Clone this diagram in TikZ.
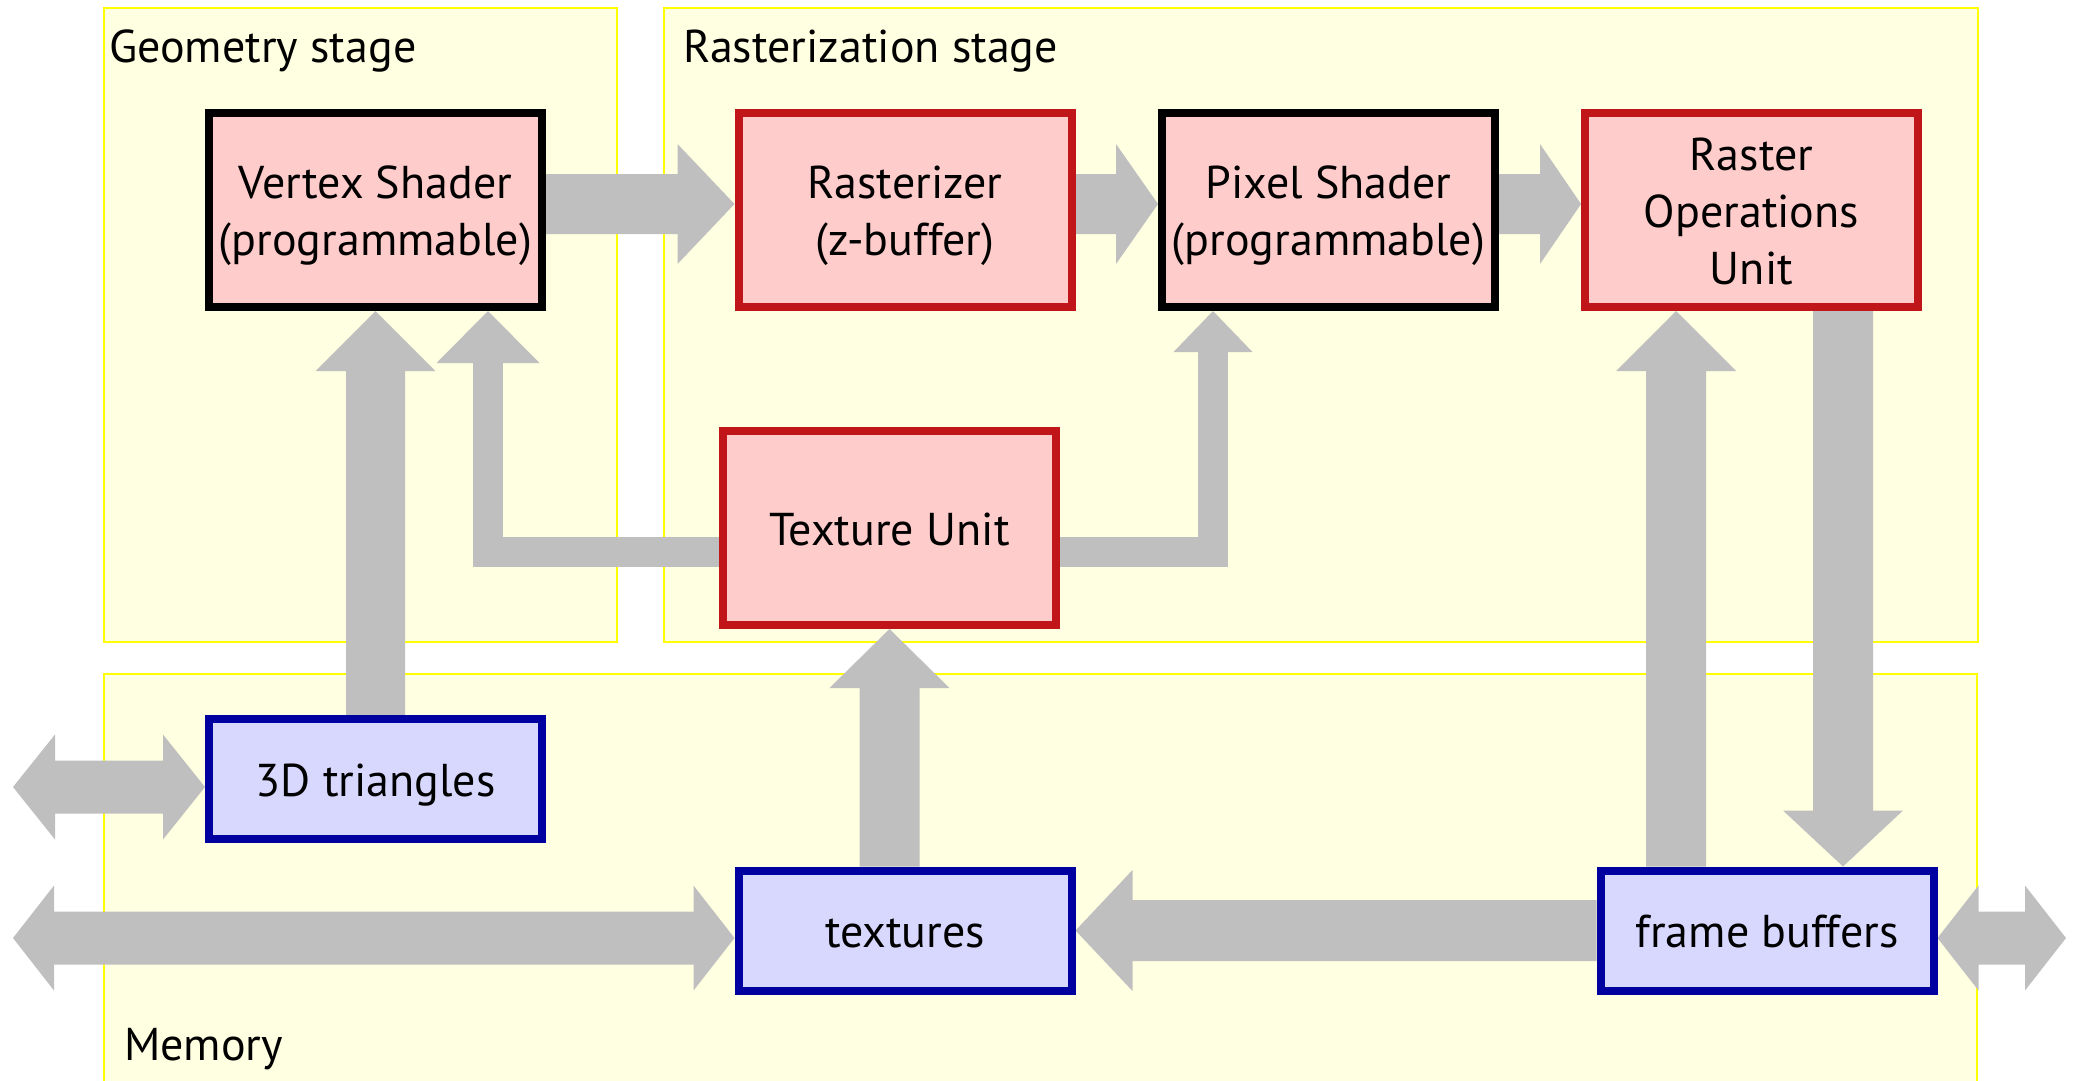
\documentclass[tikz,border=0pt]{standalone}
\usepackage{fontspec}
\setmainfont{PT Sans}
\usetikzlibrary{calc}
\pgfdeclarelayer{bgA}
\pgfdeclarelayer{bgB}
\pgfsetlayers{bgA,bgB,main}
\definecolor{regfill}{RGB}{255,255,226}
\definecolor{regline}{RGB}{255,255,0}
\definecolor{pinkfill}{RGB}{255,204,204}
\definecolor{redline}{RGB}{192,22,26}
\definecolor{bluefill}{RGB}{216,216,255}
\definecolor{blueline}{RGB}{0,0,160}
\definecolor{arrgray}{RGB}{191,191,191}
% one text line with fixed height 34pt and no depth
\newcommand\txtline[1]{\smash{#1}\rule{0pt}{34pt}}
% block arrow: from, tip, shaft half width, head half width, head length
\newcommand\blockarrow[5]{%
  \path ($(#2)!#5!(#1)$) coordinate (bahead);
  \fill[arrgray] ($(#1)!#3!90:(#2)$) -- ($(bahead)!#3!90:(#2)$) -- ($(bahead)!#4!90:(#2)$) -- (#2)
    -- ($(bahead)!#4!-90:(#2)$) -- ($(bahead)!#3!-90:(#2)$) -- ($(#1)!#3!-90:(#2)$) -- cycle;}
% double block arrow
\newcommand\dblarrow[5]{%
  \path ($(#1)!#5!(#2)$) coordinate (dbha) ($(#2)!#5!(#1)$) coordinate (dbhb);
  \fill[arrgray] (#1) -- ($(dbha)!#4!90:(#2)$) -- ($(dbha)!#3!90:(#2)$) -- ($(dbhb)!#3!90:(#2)$)
    -- ($(dbhb)!#4!90:(#2)$) -- (#2) -- ($(dbhb)!#4!-90:(#2)$) -- ($(dbhb)!#3!-90:(#2)$)
    -- ($(dbha)!#3!-90:(#2)$) -- ($(dbha)!#4!-90:(#2)$) -- cycle;}
% elbow arrow: horizontal from start, then vertical to tip
\newcommand\elbowarrow[5]{%
  \path (#2 |- #1) coordinate (elc) ($(#2)!#5!(elc)$) coordinate (elh) ($(elh)!2pt!(#2)$) coordinate (elh2);
  \draw[arrgray, line width=#3, line join=miter] (#1) -- (elc) -- (elh2);
  \fill[arrgray] ($(elh)!#4!90:(#2)$) -- (#2) -- ($(elh)!#4!-90:(#2)$) -- cycle;}
\tikzset{
  region/.style={draw=regline, fill=regfill, line width=2pt},
  reglabel/.style={anchor=base west, inner sep=0pt, font=\fontsize{46pt}{57pt}\selectfont},
  unitbox/.style={line width=8pt, minimum width=333pt, minimum height=194pt, inner sep=0pt,
    align=center, font=\fontsize{46pt}{57pt}\selectfont},
  progbox/.style={unitbox, draw=black, fill=pinkfill},
  fixbox/.style={unitbox, draw=redline, fill=pinkfill},
  membox/.style={unitbox, draw=blueline, fill=bluefill, minimum height=120pt}
}
\begin{document}
\begin{tikzpicture}[x=1pt, y=-1pt]
\useasboundingbox (0,0) rectangle (2074,1080);
% regions
\begin{pgfonlayer}{bgA}
  \begin{scope}
    \clip (0,0) rectangle (2074,1080);
    \draw[region] (104,8) rectangle (617,642);
    \draw[region] (664,8) rectangle (1978,642);
    \draw[region] (104,674) rectangle (1977,1100);
  \end{scope}
\end{pgfonlayer}
\node[reglabel] (lgeo) at (109,62) {Geometry stage};
\node[reglabel] (lras) at (683,62) {Rasterization stage};
\node[reglabel] (lmem) at (124,1060) {Memory};
% units
\node[progbox] (vs) at (375.5,210) {\txtline{Vertex Shader}\\\txtline{(programmable)}};
\node[fixbox] (rast) at (905,210) {\txtline{Rasterizer}\\\txtline{(z-buffer)}};
\node[progbox] (ps) at (1328.5,210) {\txtline{Pixel Shader}\\\txtline{(programmable)}};
\node[fixbox] (rou) at (1751.5,210) {\txtline{Raster}\\\txtline{Operations}\\\txtline{Unit}};
\node[fixbox] (tu) at (889.5,528) {\txtline{Texture Unit}};
\node[membox] (tri) at (375.5,779) {\txtline{3D triangles}};
\node[membox] (tex) at (905,930.5) {\txtline{textures}};
\node[membox] (fb) at (1767,930.5) {\txtline{frame buffers}};
% connectors
\begin{pgfonlayer}{bgB}
  \coordinate (p1) at ([yshift=6pt]vs.east);
  \coordinate (p2) at ([yshift=6pt]rast.west);
  \blockarrow{p1}{p2}{30pt}{60pt}{57pt}
  \coordinate (p3) at ([yshift=6pt]rast.east);
  \coordinate (p4) at ([yshift=6pt]ps.west);
  \blockarrow{p3}{p4}{30pt}{60pt}{42pt}
  \coordinate (p5) at ([yshift=6pt]ps.east);
  \coordinate (p6) at ([yshift=6pt]rou.west);
  \blockarrow{p5}{p6}{30pt}{60pt}{41pt}
  \blockarrow{tri.north}{vs.south}{29.5pt}{60pt}{60pt}
  \coordinate (p7) at (tu.south |- tex.north);
  \blockarrow{p7}{tu.south}{30pt}{60pt}{59pt}
  \coordinate (p8) at ([xshift=-75.5pt]rou.south);
  \coordinate (p9) at (p8 |- fb.north);
  \blockarrow{p9}{p8}{30pt}{60pt}{60pt}
  \coordinate (p10) at ([xshift=91.5pt]rou.south);
  \coordinate (p11) at (p10 |- fb.north);
  \blockarrow{p10}{p11}{30pt}{60pt}{56pt}
  \blockarrow{fb.west}{tex.east}{30.5pt}{60.5pt}{57pt}
  \coordinate (ext1) at (13,787);
  \coordinate (p12) at (ext1 -| tri.west);
  \dblarrow{ext1}{p12}{26.5pt}{52.5pt}{42pt}
  \coordinate (ext2) at (13,938);
  \coordinate (p13) at (ext2 -| tex.west);
  \dblarrow{ext2}{p13}{26.5pt}{52.5pt}{41pt}
  \coordinate (ext3) at (2066,938);
  \coordinate (p14) at (ext3 -| fb.east);
  \dblarrow{p14}{ext3}{26.5pt}{52.5pt}{41pt}
  \coordinate (p15) at ([yshift=-24pt]tu.west);
  \coordinate (p16) at ([xshift=112.5pt]vs.south);
  \elbowarrow{p15}{p16}{30pt}{51.5pt}{52pt}
  \coordinate (p17) at ([yshift=-24pt]tu.east);
  \coordinate (p18) at ([xshift=-115.5pt]ps.south);
  \elbowarrow{p17}{p18}{30pt}{39.5pt}{41pt}
\end{pgfonlayer}
\end{tikzpicture}
\end{document}
